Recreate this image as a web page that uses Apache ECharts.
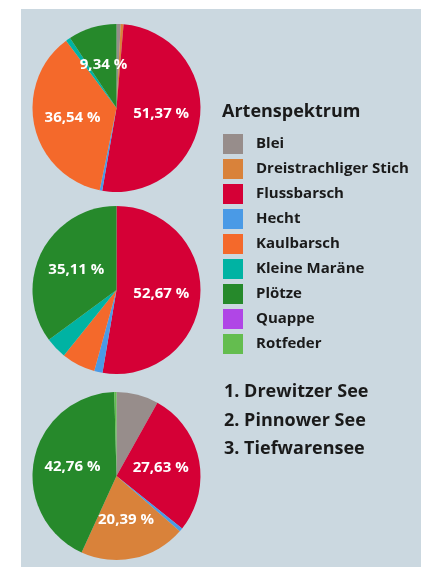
<!DOCTYPE html>
<html><head><meta charset="utf-8">
<script src="https://cdn.jsdelivr.net/npm/echarts@6/dist/echarts.min.js"></script>
<style>
html,body{margin:0;padding:0;background:#ffffff;width:421px;height:567px;overflow:hidden;}
#c{position:absolute;left:21px;top:9px;width:400px;height:558px;background:#cbd8e0;}
</style>
</head><body><div id="c"></div>
<script>
// Species (legend order) and their colours
const species = ['Blei','Dreistrachliger Stich','Flussbarsch','Hecht','Kaulbarsch','Kleine Maräne','Plötze','Quappe','Rotfeder'];
const speciesColors = ['#978d8b','#d9823a','#d50036','#4a9ae6','#f4692b','#00b3a3','#26892b','#b046e6','#64bd4f'];
const legendTitle = 'Artenspektrum';
// Lakes
const lakes = ['1. Drewitzer See','2. Pinnower See','3. Tiefwarensee'];
// Percent shares per lake, in drawing order
const drewitzerSpecies = ['Blei','Dreistrachliger Stich','Flussbarsch','Hecht','Kaulbarsch','Kleine Maräne','Plötze','Quappe','Rotfeder'];
const drewitzerValues  = [0.8, 0.55, 51.37, 0.5, 36.54, 0.9, 9.34, 0, 0];
const pinnowerSpecies  = ['Blei','Dreistrachliger Stich','Flussbarsch','Hecht','Kaulbarsch','Kleine Maräne','Plötze','Quappe','Rotfeder'];
const pinnowerValues   = [0, 0, 52.67, 1.6, 6.5, 4.12, 35.11, 0, 0];
const tiefwarenSpecies = ['Blei','Flussbarsch','Hecht','Dreistrachliger Stich','Plötze','Rotfeder','Kaulbarsch','Kleine Maräne','Quappe'];
const tiefwarenValues  = [8.1, 27.63, 0.7, 20.39, 42.76, 0.42, 0, 0, 0];

const lakeSpecies = [drewitzerSpecies, pinnowerSpecies, tiefwarenSpecies];
const lakeValues = [drewitzerValues, pinnowerValues, tiefwarenValues];

const FONT = '"Open Sans", "Noto Sans", sans-serif';
const centers = [[95.5, 99], [95.5, 281], [95.5, 467]];
const colorOf = name => speciesColors[species.indexOf(name)];

const chart = echarts.init(document.getElementById('c'), null, {renderer: 'canvas'});
const series = lakeValues.map((vals, i) => ({
  type: 'pie',
  name: lakes[i],
  center: centers[i],
  radius: [0, 84],
  startAngle: 90,
  clockwise: true,
  minAngle: 0,
  avoidLabelOverlap: false,
  animation: false,
  itemStyle: {borderWidth: 0},
  label: {
    show: true,
    position: 'inside',
    color: '#ffffff',
    fontFamily: FONT,
    fontWeight: 'bold',
    fontSize: 15,
    formatter: p => p.value > 9 ? p.value.toFixed(2).replace('.', ',') + ' %' : ''
  },
  labelLine: {show: false},
  emphasis: {disabled: true},
  data: lakeSpecies[i].map((s, k) => ({name: s, value: vals[k], itemStyle: {color: colorOf(s)}}))
}));

chart.setOption({
  backgroundColor: '#cbd8e0',
  animation: false,
  title: [
    {text: legendTitle, left: 201, top: 91, padding: 0,
     textStyle: {fontFamily: FONT, fontWeight: 'bold', fontSize: 18, color: '#1a1a1a', lineHeight: 24}},
    {text: lakes.join('\n'), left: 203, top: 369, padding: 0,
     textStyle: {fontFamily: FONT, fontWeight: 'bold', fontSize: 18, color: '#1a1a1a', lineHeight: 28.5}}
  ],
  legend: {
    orient: 'vertical',
    left: 202, top: 125, padding: 0,
    itemWidth: 20, itemHeight: 20, itemGap: 5,
    icon: 'rect',
    selectedMode: false,
    data: species.map((s, k) => ({name: s, itemStyle: {color: speciesColors[k]}})),
    textStyle: {fontFamily: FONT, fontWeight: 'bold', fontSize: 15, color: '#1a1a1a', padding: [0,0,0,8]}
  },
  series: series
});
</script>
</body></html>
